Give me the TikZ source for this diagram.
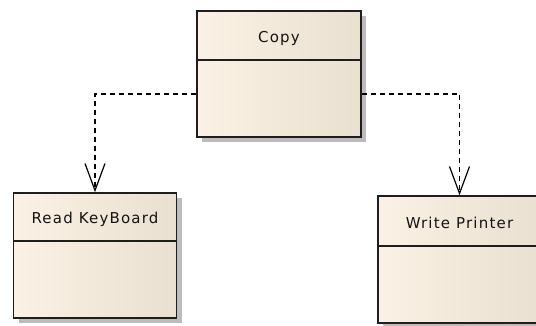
\documentclass[tikz,border=0pt]{standalone}
\usepackage{fontspec}
\setmainfont{DejaVu Sans}[LetterSpace=8]
\usetikzlibrary{arrows.meta,shadows,calc}
\definecolor{boxlight}{RGB}{251,241,228}
\definecolor{boxdark}{RGB}{234,224,209}
\definecolor{boxline}{RGB}{30,30,30}
\definecolor{shadowgrey}{RGB}{188,188,188}
\definecolor{txt}{RGB}{20,20,20}
\tikzset{
  classbox/.style={rectangle, draw=boxline, line width=1.6pt,
    left color=boxlight, middle color=boxlight, right color=boxdark,
    minimum width=163pt, minimum height=125pt, inner sep=0pt,
    drop shadow={shadow xshift=5pt, shadow yshift=-5pt, fill=shadowgrey, opacity=1}},
  classname/.style={font=\fontsize{15}{18}\selectfont, text=txt, inner sep=0pt},
  divider/.style={draw=boxline, line width=1.6pt},
  dep/.style={draw=black, line width=1.2pt, dash pattern=on 5pt off 4pt,
    -{Straight Barb[length=27pt, width=20pt, line width=1.2pt]}}
}
\begin{document}
\begin{tikzpicture}[x=1pt,y=-1pt]
\useasboundingbox (0,0) rectangle (536,325);
% classes
\node[classbox, minimum width=164pt, minimum height=126pt] (copy) at (279,74) {};
\node[classbox] (read) at (95,255.5) {};
\node[classbox, minimum height=127pt] (write) at (459.5,259.5) {};
% dividers
\draw[divider] ($(copy.north west)+(0,50)$) coordinate (cdl) -- ($(copy.north east)+(0,50)$) coordinate (cdr);
\draw[divider] ($(read.north west)+(0,49)$) coordinate (rdl) -- ($(read.north east)+(0,49)$) coordinate (rdr);
\draw[divider] ($(write.north west)+(0,51)$) coordinate (wdl) -- ($(write.north east)+(0,51)$) coordinate (wdr);
% names
\node[classname] (copyname) at ($(copy.north)+(0,28)$) {Copy};
\node[classname] (readname) at ($(read.north)+(0,27)$) {Read KeyBoard};
\node[classname] (writename) at ($(write.north)+(0,28)$) {Write Printer};
% dependencies
\draw[dep] ($(copy.west)+(0,20)$) -| (read.north);
\draw[dep] ($(copy.east)+(0,20)$) -| (write.north);
\end{tikzpicture}
\end{document}
